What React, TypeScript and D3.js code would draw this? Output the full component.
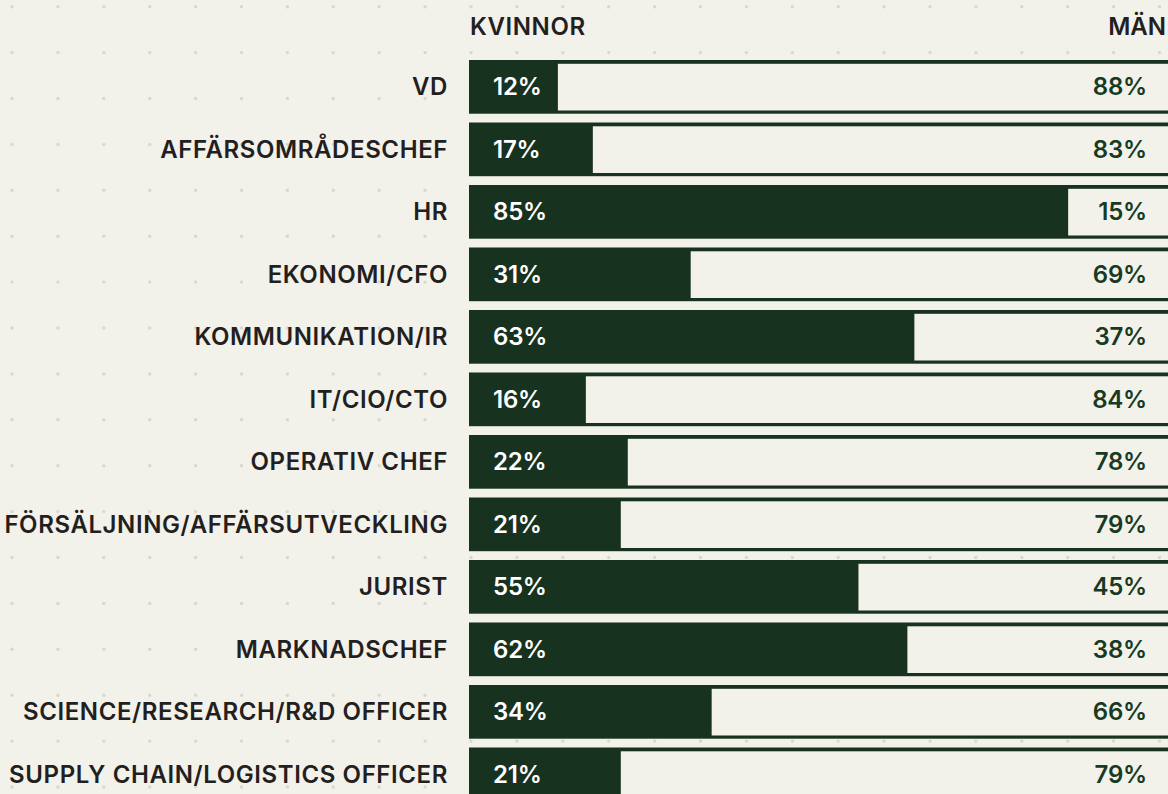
import React, { useEffect, useRef } from "react";
import * as d3 from "d3";

const roles = [
  "VD",
  "AFFÄRSOMRÅDESCHEF",
  "HR",
  "EKONOMI/CFO",
  "KOMMUNIKATION/IR",
  "IT/CIO/CTO",
  "OPERATIV CHEF",
  "FÖRSÄLJNING/AFFÄRSUTVECKLING",
  "JURIST",
  "MARKNADSCHEF",
  "SCIENCE/RESEARCH/R&D OFFICER",
  "SUPPLY CHAIN/LOGISTICS OFFICER",
];
const women = [12, 17, 85, 31, 63, 16, 22, 21, 55, 62, 34, 21];
const men = [88, 83, 15, 69, 37, 84, 78, 79, 45, 38, 66, 79];
const headers = ["KVINNOR", "MÄN"];

const W = 1168;
const H = 794;
const BG = "#f2f1ea";
const DARK = "#17321f";
const FONT = "Inter, 'Noto Sans', sans-serif";

export default function App() {
  const ref = useRef<SVGSVGElement>(null);

  useEffect(() => {
    const svg = d3.select(ref.current);
    svg.selectAll("*").remove();

    svg.append("rect").attr("width", W).attr("height", H).attr("fill", BG);

    // dotted background grid
    const step = 45.9;
    const dots: [number, number][] = [];
    for (let x = 12; x < W; x += step) {
      for (let y = 6.7; y < H; y += step) dots.push([x, y]);
    }
    svg.append("g")
      .selectAll("circle")
      .data(dots)
      .join("circle")
      .attr("cx", d => d[0])
      .attr("cy", d => d[1])
      .attr("r", 1.7)
      .attr("fill", "#d8d7d0");

    const rowStep = 62.5;
    const barH = 53.7;
    const y = d3.scaleBand()
      .domain(roles)
      .range([60, 60 + rowStep * (roles.length - 1) + barH])
      .paddingInner((rowStep - barH) / rowStep)
      .paddingOuter(0);
    const x = d3.scaleLinear().domain([0, 100]).range([474, 1173]);
    const barLeft = 469;
    const bh = y.bandwidth();

    const rows = svg.append("g")
      .selectAll("g")
      .data(roles)
      .join("g")
      .attr("transform", d => `translate(0, ${y(d)})`);

    // full bar (dark outline)
    rows.append("rect")
      .attr("x", barLeft)
      .attr("y", 0)
      .attr("width", 1200 - barLeft)
      .attr("height", bh)
      .attr("fill", DARK);

    // men part (light inside)
    rows.append("rect")
      .attr("x", (_, i) => x(women[i]))
      .attr("y", 3.8)
      .attr("width", (_, i) => 1200 - x(women[i]))
      .attr("height", bh - 7)
      .attr("fill", BG);

    const label = (sel: any, spacing = 0.6) =>
      sel.attr("font-family", FONT)
        .attr("font-weight", 600)
        .attr("font-size", 24)
        .attr("letter-spacing", spacing);

    // category labels
    rows.append("text")
      .attr("x", 448)
      .attr("y", bh / 2 + 8.5)
      .attr("text-anchor", "end")
      .call(label)
      .attr("fill", "#231f20")
      .text(d => d);

    rows.append("text")
      .attr("x", 493)
      .attr("y", bh / 2 + 8.5)
      .call(label, -0.2)
      .attr("fill", "#ffffff")
      .text((_, i) => `${women[i]}%`);

    rows.append("text")
      .attr("x", 1147)
      .attr("y", bh / 2 + 8.5)
      .attr("text-anchor", "end")
      .call(label, -0.2)
      .attr("fill", "#173a22")
      .text((_, i) => `${men[i]}%`);

    // column headers
    svg.append("text")
      .attr("x", 470)
      .attr("y", 35)
      .call(label)
      .attr("fill", "#231f20")
      .text(headers[0]);

    svg.append("text")
      .attr("x", 1166)
      .attr("y", 35)
      .attr("text-anchor", "end")
      .call(label, 0)
      .attr("fill", "#231f20")
      .text(headers[1]);
  }, []);

  return (
    <svg
      ref={ref}
      width={W}
      height={H}
      style={{ position: "absolute", left: 0, top: 0, display: "block" }}
    />
  );
}
